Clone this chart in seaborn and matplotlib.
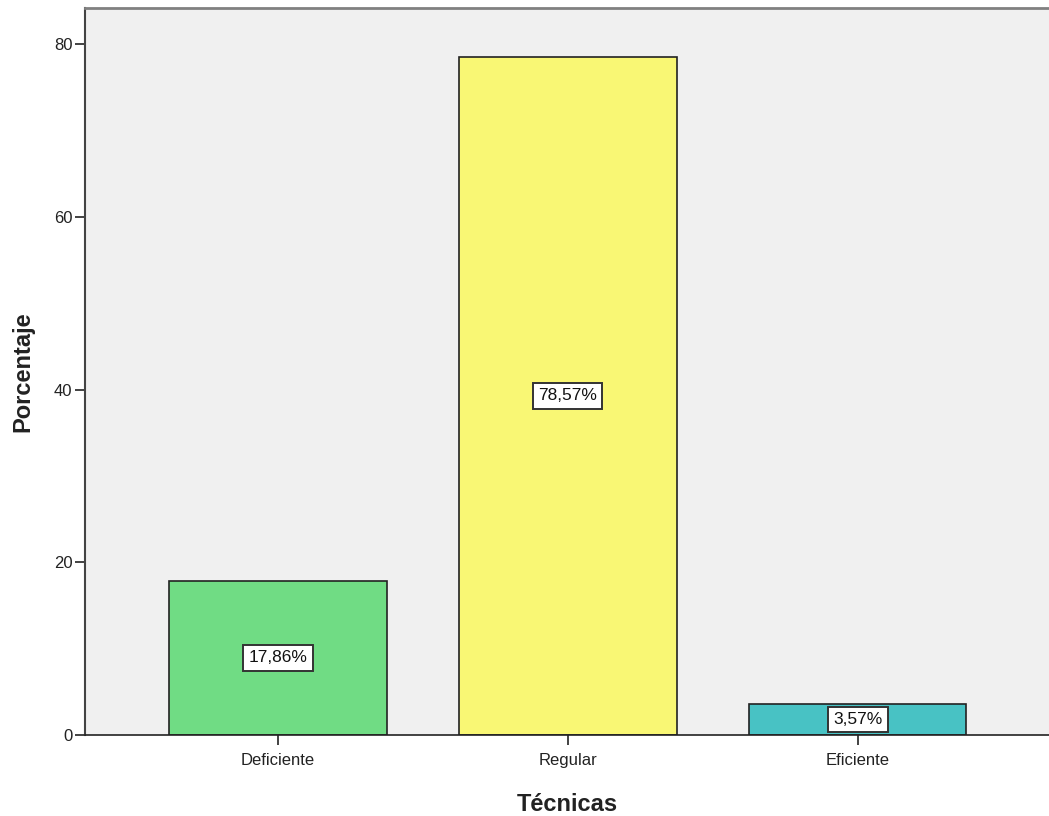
import matplotlib
matplotlib.use("Agg")
import matplotlib.pyplot as plt
import seaborn as sns
import pandas as pd

categories = ["Deficiente", "Regular", "Eficiente"]
percentages = [17.86, 78.57, 3.57]
labels = ["17,86%", "78,57%", "3,57%"]
bar_colors = ["#70DC84", "#F9F774", "#48C2C4"]

sns.set_style("white")
plt.rcParams["font.family"] = ["Liberation Sans", "DejaVu Sans"]

df = pd.DataFrame({"Técnicas": categories, "Porcentaje": percentages})

fig = plt.figure(figsize=(10.49, 8.16), dpi=100)
ax = fig.add_axes([0.081, 0.0993, 0.919, 0.8907])
ax.set_facecolor("#F0F0F0")

sns.barplot(data=df, x="Técnicas", y="Porcentaje", hue="Técnicas",
            palette=bar_colors, saturation=1, width=0.75, edgecolor="#222222",
            linewidth=1.2, legend=False, ax=ax)

for i, (v, t) in enumerate(zip(percentages, labels)):
    ax.text(i, v / 2, t, ha="center", va="center", fontsize=12.5, color="#111111",
            bbox=dict(boxstyle="square,pad=0.3", facecolor="white",
                      edgecolor="#333333", linewidth=1.4))

ax.set_xlim(-0.666, 2.66)
ax.set_ylim(0, 84.2)
ax.set_yticks([0, 20, 40, 60, 80])

ax.spines["right"].set_visible(False)
ax.spines["top"].set_color("#808080")
ax.spines["top"].set_linewidth(2.0)
ax.spines["left"].set_color("#444444")
ax.spines["left"].set_linewidth(1.5)
ax.spines["bottom"].set_color("#222222")
ax.spines["bottom"].set_linewidth(1.2)

ax.tick_params(axis="y", which="major", length=7, width=1.2, color="#222222",
               labelsize=12, labelcolor="#222222", pad=2, direction="out", left=True)
ax.tick_params(axis="x", which="major", length=7, width=1.2, color="#222222",
               labelsize=12, labelcolor="#222222", pad=6, direction="out", bottom=True)

ax.set_xlabel("Técnicas", fontsize=17, fontweight="bold", color="#222222", labelpad=18)
ax.set_ylabel("Porcentaje", fontsize=17, fontweight="bold", color="#222222", labelpad=14)

fig.savefig("out.png", dpi=100)
